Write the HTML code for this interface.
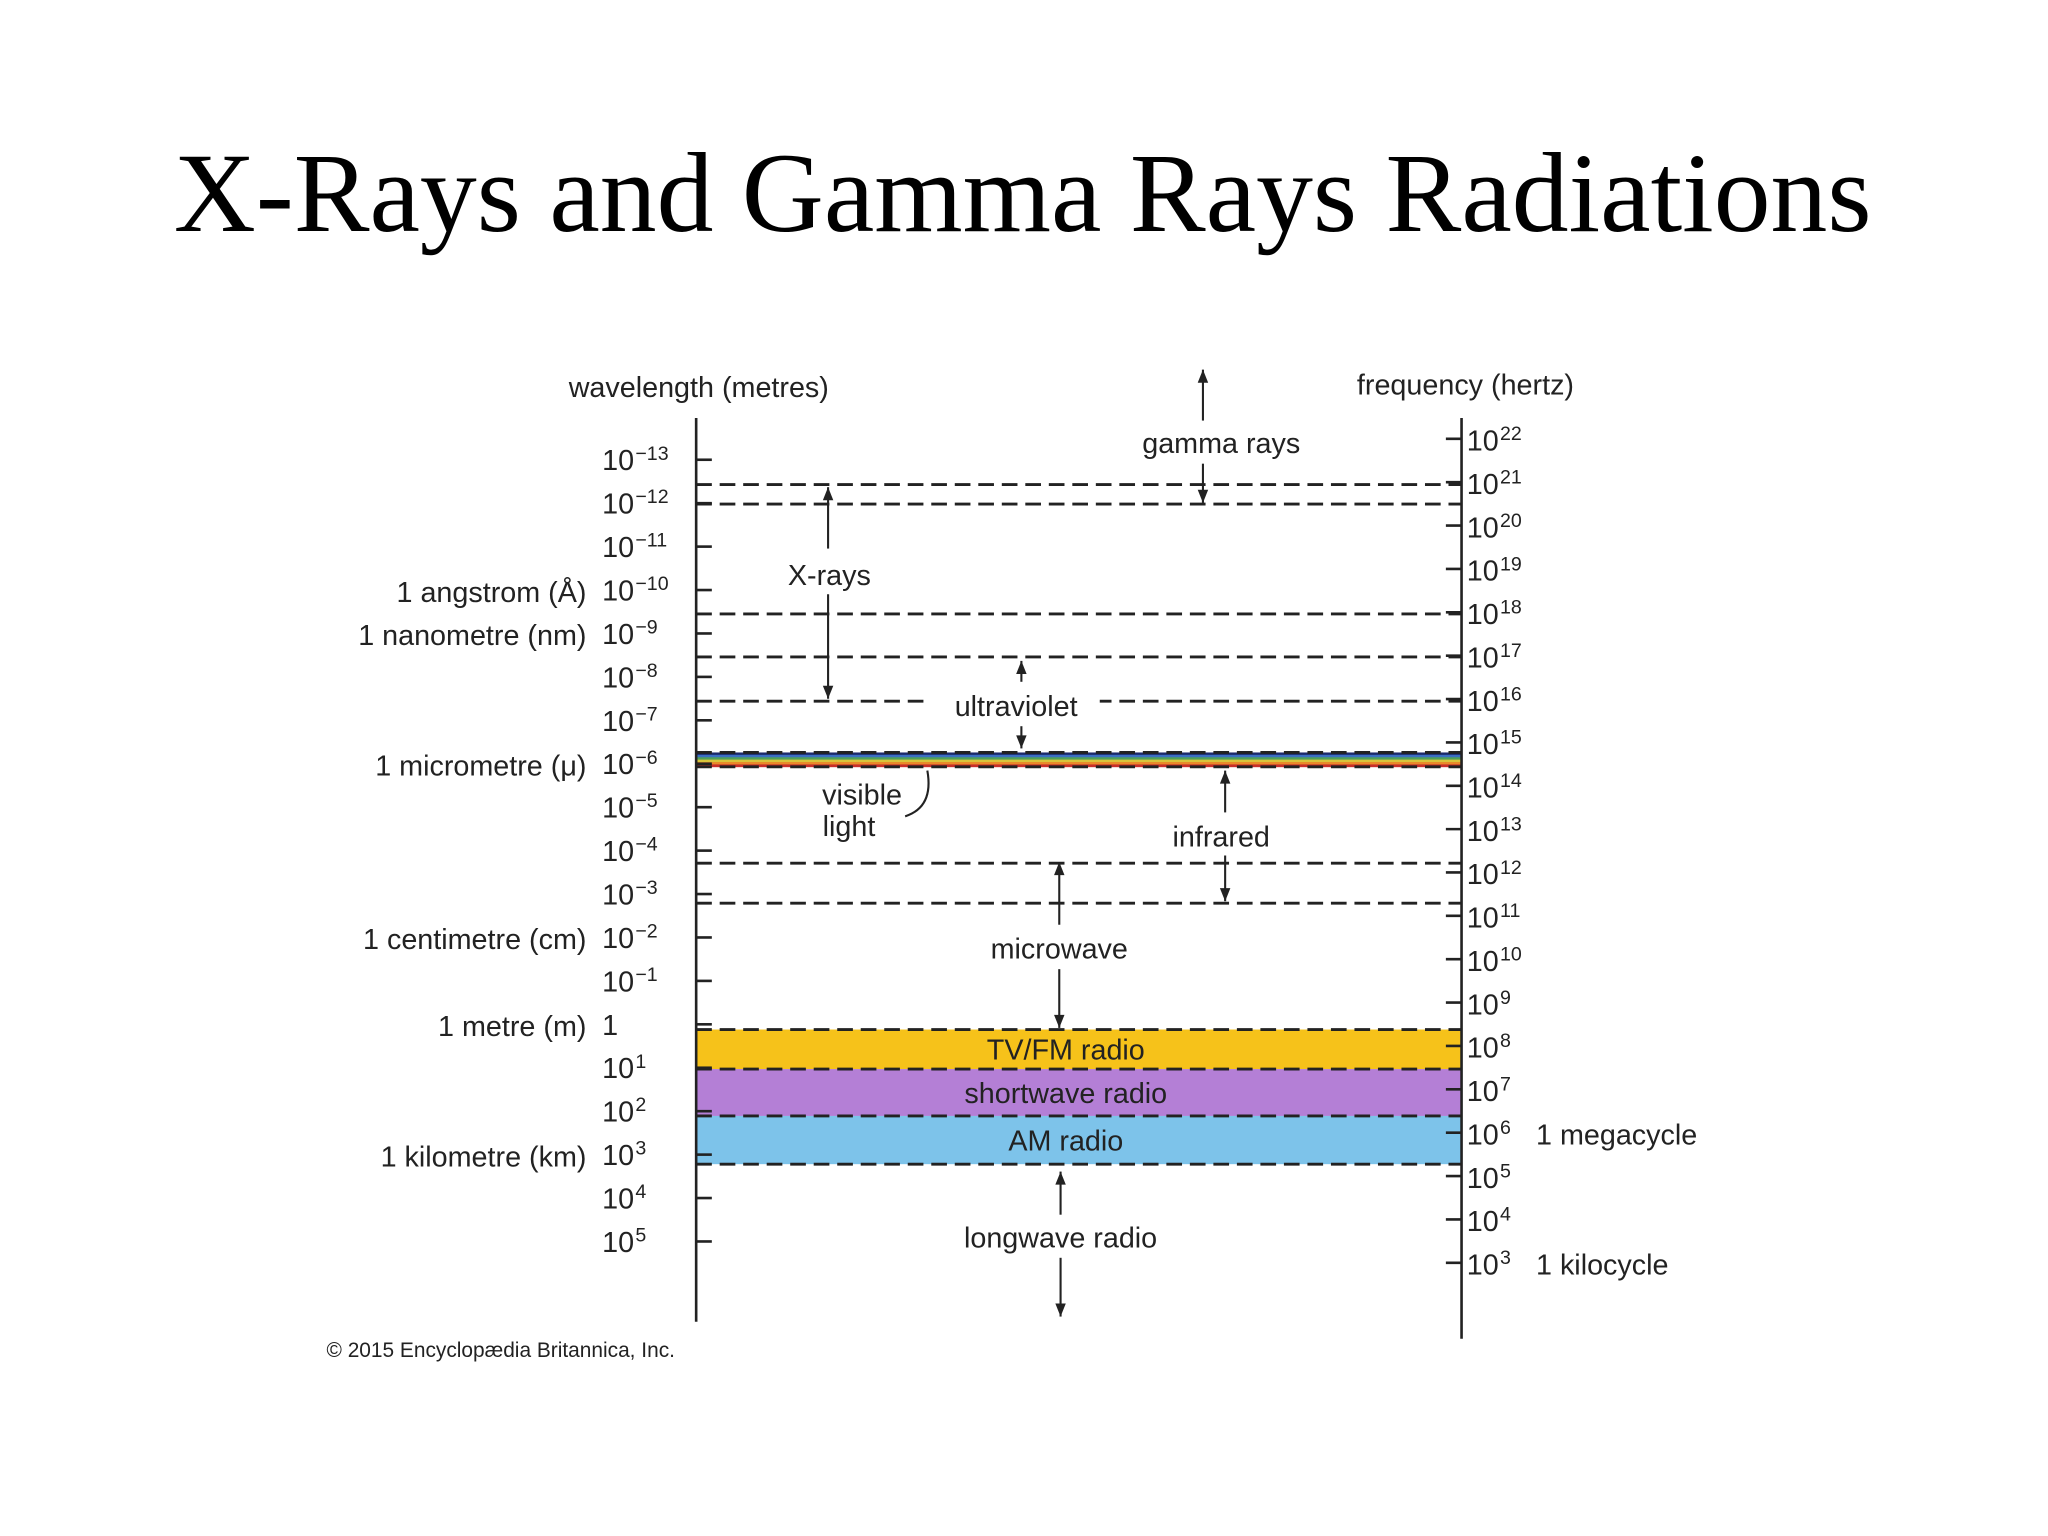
<!DOCTYPE html>
<html><head><meta charset="utf-8"><style>
html,body{margin:0;padding:0;background:#fff;}
svg{display:block;}
text{font-family:"Liberation Sans",sans-serif;fill:#222;}
</style></head><body>
<svg width="2048" height="1536" viewBox="0 0 1568 1176" preserveAspectRatio="none" xmlns="http://www.w3.org/2000/svg">
<text x="783" y="177" text-anchor="middle" style="font-family:'Liberation Serif',serif;font-size:87px;fill:#000">X-Rays and Gamma Rays Radiations</text>
<g id="g"></g>
</svg>
<script>
const wlExps=[-13,-12,-11,-10,-9,-8,-7,-6,-5,-4,-3,-2,-1,0,1,2,3,4,5];
const wlNames={"-10":"1 angstrom (Å)","-9":"1 nanometre (nm)","-6":"1 micrometre (μ)","-2":"1 centimetre (cm)","0":"1 metre (m)","3":"1 kilometre (km)"};
const fqExps=[22,21,20,19,18,17,16,15,14,13,12,11,10,9,8,7,6,5,4,3];
const fqNames={"6":"1 megacycle","3":"1 kilocycle"};
const boundaries=[-12.43,-11.98,-9.45,-8.46,-7.44,-6.26,-5.93,-3.71,-2.79,0.12,1.03,2.11,3.22];
const bands=[["TV/FM radio",0.12,1.03,"#f6c21a"],["shortwave radio",1.03,2.11,"#b47fd6"],["AM radio",2.11,3.22,"#7dc3ea"]];
const NS="http://www.w3.org/2000/svg";
const g=document.getElementById('g');
const yW=e=>352+(e+13)*33.25;
const yF=e=>336+(22-e)*33.2;
const XL=533,XR=1119;
function mk(t,a,p){const el=document.createElementNS(NS,t);for(const k in a)el.setAttribute(k,a[k]);(p||g).appendChild(el);return el;}
function txt(x,y,s,anchor,size,name){const t=mk('text',{x:x,y:y,'text-anchor':anchor||'middle','font-size':size||22});t.textContent=s;

return t;}
function pow(x,y,e,name){const t=mk('text',{x:x,y:y,'font-size':22});


if(e===0){t.textContent='1';return;}
t.appendChild(document.createTextNode('10'));
const s=mk('tspan',{dy:-8,dx:1,'font-size':15},t);s.textContent=String(e).replace('-','−');}
bands.forEach(b=>{const r=mk('rect',{x:XL,y:yW(b[1]),width:XR-XL,height:yW(b[2])-yW(b[1]),fill:b[3]});


txt(816,(yW(b[1])+yW(b[2]))/2+8,b[0],'middle',22,'band-label');});
const rc=["#1d2a6b","#3b6fc2","#4fa05a","#d8c43a","#e98a2a","#c8302a"];
const v0=yW(boundaries[5]),v1=yW(boundaries[6]);
rc.forEach((c,i)=>{const r=mk('rect',{x:XL,y:v0+i*(v1-v0)/rc.length,width:XR-XL,height:(v1-v0)/rc.length+0.3,fill:c});

});
boundaries.forEach((b,i)=>{const y=yW(b);
const l=mk('line',{x1:XL,x2:XR,y1:y,y2:y,stroke:'#222','stroke-width':2.2,'stroke-dasharray':'12 6'});

});
const uv=mk('rect',{x:712,y:yW(boundaries[4])-6,width:130,height:12,fill:'#fff'});


const a1=mk('line',{x1:XL,x2:XL,y1:320,y2:1012,stroke:'#222','stroke-width':2});


const a2=mk('line',{x1:XR,x2:XR,y1:320,y2:1025,stroke:'#222','stroke-width':2});


txt(535,304,'wavelength (metres)','middle',22,'wavelength-axis-title');
txt(1122,302,'frequency (hertz)','middle',22,'frequency-axis-title');
wlExps.forEach(e=>{const y=yW(e);
const t=mk('line',{x1:XL,x2:XL+12,y1:y,y2:y,stroke:'#222','stroke-width':2});


pow(461,y+8,e,'wavelength-tick-label');
if(wlNames[e])txt(449,y+9,wlNames[e],'end',22,'wavelength-unit-label');});
fqExps.forEach(e=>{const y=yF(e);
const t=mk('line',{x1:XR-12,x2:XR,y1:y,y2:y,stroke:'#222','stroke-width':2});


pow(1123,y+9,e,'frequency-tick-label');
if(fqNames[e])txt(1176,y+9,fqNames[e],'start',22,'frequency-unit-label');});
function arrow(x,y1,y2){const l=mk('line',{x1:x,x2:x,y1:y1,y2:y2,stroke:'#222','stroke-width':1.6});


const d=y2<y1?-1:1;
const p=mk('path',{d:`M${x-4},${y2-d*10} L${x},${y2} L${x+4},${y2-d*10} Z`,fill:'#222'});

}
txt(935,347,'gamma rays','middle',22,'gamma-rays-label');arrow(921,322,283);arrow(921,355,385);
txt(635,448,'X-rays','middle',22,'x-rays-label');arrow(634,420,373);arrow(634,455,535);
txt(778,548,'ultraviolet','middle',22,'ultraviolet-label');arrow(782,522,506);arrow(782,556,573);
txt(660,616,'visible','middle',22,'visible-light-label');txt(650,640,'light','middle',22,'visible-light-label');
const cv=mk('path',{d:'M693,625 Q715,618 710,590',fill:'none',stroke:'#222','stroke-width':1.6});


txt(935,648,'infrared','middle',22,'infrared-label');arrow(938,622,590);arrow(938,655,690);
txt(811,734,'microwave','middle',22,'microwave-label');arrow(811,708,660);arrow(811,742,787);
txt(812,955,'longwave radio','middle',22,'longwave-radio-label');arrow(812,930,897);arrow(812,963,1008);
txt(250,1039,'© 2015 Encyclopædia Britannica, Inc.','start',16,'copyright');
</script>
</body></html>
